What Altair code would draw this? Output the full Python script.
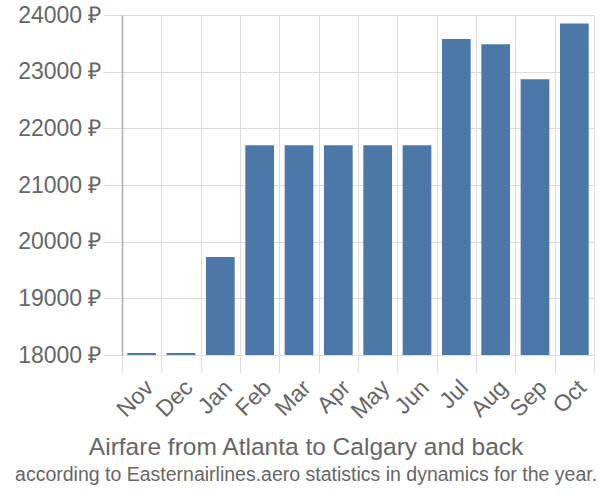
import altair as alt
import pandas as pd

months = ["Nov", "Dec", "Jan", "Feb", "Mar", "Apr", "May", "Jun", "Jul", "Aug", "Sep", "Oct"]
prices = [18035, 18035, 19730, 21700, 21700, 21700, 21700, 21700, 23575, 23485, 22865, 23850]

df = pd.DataFrame({"month": months, "price": prices})

FONT = "Liberation Sans"

bars = alt.Chart(df).mark_bar(color="#4c78a8", width={"band": 0.73}).encode(
    x=alt.X(
        "month:N",
        sort=months,
        title=None,
        scale=alt.Scale(paddingInner=0, paddingOuter=0),
        axis=alt.Axis(
            labelAngle=-45,
            labelFontSize=23,
            labelColor="#666666",
            labelFont=FONT,
            tickBand="extent",
            tickSize=18,
            tickColor="#dddddd",
            gridColor="#dddddd",
            grid=True,
            domain=False,
            labelPadding=3,
        ),
    ),
    y=alt.Y(
        "price:Q",
        title=None,
        scale=alt.Scale(domain=[18000, 24000], zero=False, nice=False, clamp=True),
        axis=alt.Axis(
            values=[18000, 19000, 20000, 21000, 22000, 23000, 24000],
            labelExpr="format(datum.value, 'd') + ' ₽'",
            labelFontSize=23,
            labelColor="#666666",
            labelFont=FONT,
            tickSize=19,
            tickColor="#dddddd",
            gridColor="#dddddd",
            domainColor="#aaaaaa",
            domainWidth=1.5,
            labelPadding=2,
        ),
    ),
)

chart = bars.properties(
    width=472,
    height=340,
    autosize=alt.AutoSizeParams(type="none"),
    padding={"left": 122, "top": 15, "right": 6, "bottom": 145},
    title=alt.TitleParams(
        text="Airfare from Atlanta to Calgary and back",
        subtitle="according to Easternairlines.aero statistics in dynamics for the year.",
        orient="bottom",
        anchor="middle",
        frame="bounds",
        font=FONT,
        fontSize=24.5,
        fontWeight="normal",
        color="#666666",
        subtitleFont=FONT,
        subtitleFontSize=19.5,
        subtitleColor="#666666",
        subtitlePadding=6,
        offset=13,
    ),
).configure_view(stroke=None)

chart.save("out.html", embed_options={"renderer": "svg", "actions": False})
